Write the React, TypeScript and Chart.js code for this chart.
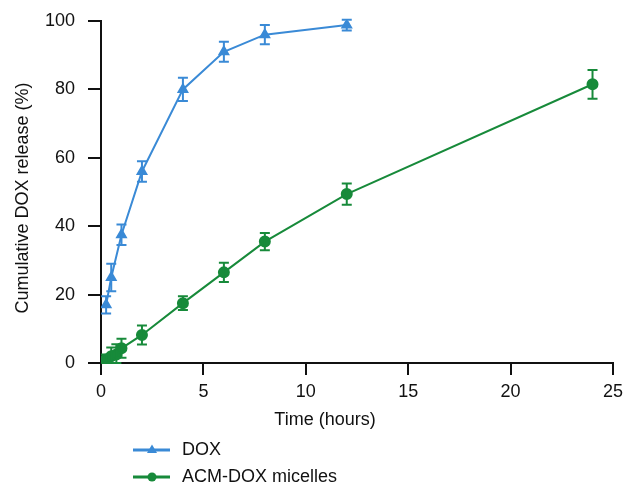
import React, { useEffect, useRef } from "react";
import { Chart, registerables } from "chart.js";

Chart.register(...registerables);

const doxTime = [0.25, 0.5, 1, 2, 4, 6, 8, 12];
const doxRelease = [17, 25, 37.5, 56, 80, 91, 96, 98.8];
const doxError = [2.5, 4, 3, 3, 3.4, 2.9, 2.8, 1.6];

const acmTime = [0.25, 0.5, 0.75, 1, 2, 4, 6, 8, 12, 24];
const acmRelease = [1, 2, 2.5, 4.3, 8.2, 17.5, 26.5, 35.5, 49.4, 81.5];
const acmError = [1.5, 2.5, 3, 2.8, 2.8, 2, 2.8, 2.5, 3.1, 4.2];

const xTicks = [0, 5, 10, 15, 20, 25];
const yTicks = [0, 20, 40, 60, 80, 100];

const seriesLabels = ["DOX", "ACM-DOX micelles"];
const xTitle = "Time (hours)";
const yTitle = "Cumulative DOX release (%)";
const BLUE = "#3a8ad6";
const GREEN = "#178a3a";
const INK = "#111";
const FONT = "'Liberation Sans', Arial, sans-serif";

const errorBarPlugin = {
  id: "errorBars",
  afterDatasetsDraw(chart: any) {
    const ctx = chart.ctx;
    const ys = chart.scales.y;
    const xs = chart.scales.x;
    chart.data.datasets.forEach((ds: any) => {
      const errs = ds.errors as number[];
      ctx.save();
      ctx.strokeStyle = ds.borderColor;
      ctx.lineWidth = 2;
      ds.data.forEach((p: any, j: number) => {
        const px = xs.getPixelForValue(p.x);
        const top = ys.getPixelForValue(p.y + errs[j]);
        const bot = ys.getPixelForValue(Math.max(0, p.y - errs[j]));
        ctx.beginPath();
        ctx.moveTo(px, top);
        ctx.lineTo(px, bot);
        ctx.moveTo(px - 5, top);
        ctx.lineTo(px + 5, top);
        ctx.moveTo(px - 5, bot);
        ctx.lineTo(px + 5, bot);
        ctx.stroke();
      });
      ctx.restore();
    });
  },
};

const titlesAndLegendPlugin = {
  id: "titlesLegend",
  afterDraw(chart: any) {
    const ctx = chart.ctx;
    const area = chart.chartArea;
    ctx.save();
    ctx.fillStyle = INK;
    ctx.font = `18px ${FONT}`;
    // x title
    ctx.textAlign = "center";
    ctx.textBaseline = "alphabetic";
    ctx.fillText(xTitle, area.left + (area.right - area.left) * 0.4375, area.bottom + 62);
    // y title
    ctx.save();
    ctx.translate(28, (area.top + area.bottom) / 2 + 6);
    ctx.rotate(-Math.PI / 2);
    ctx.fillText(yTitle, 0, 0);
    ctx.restore();
    // legend
    const left = area.left + 32;
    chart.data.datasets.forEach((ds: any, i: number) => {
      const y = area.bottom + 87 + i * 27;
      ctx.strokeStyle = ds.borderColor;
      ctx.fillStyle = ds.borderColor;
      ctx.lineWidth = 3;
      ctx.beginPath();
      ctx.moveTo(left, y);
      ctx.lineTo(left + 37, y);
      ctx.stroke();
      const cx = left + 19;
      ctx.beginPath();
      if (ds.pointStyle === "triangle") {
        ctx.moveTo(cx, y - 5.5);
        ctx.lineTo(cx + 5, y + 3);
        ctx.lineTo(cx - 5, y + 3);
        ctx.closePath();
      } else {
        ctx.arc(cx, y, 4.5, 0, Math.PI * 2);
      }
      ctx.fill();
      ctx.fillStyle = INK;
      ctx.textBaseline = "middle";
      ctx.textAlign = "left";
      ctx.fillText(seriesLabels[i], left + 49, y);
    });
    ctx.restore();
  },
};

export default function App() {
  const ref = useRef<HTMLCanvasElement | null>(null);
  useEffect(() => {
    if (!ref.current) return;
    const chart = new Chart(ref.current, {
      type: "scatter",
      data: {
        datasets: [
          {
            label: seriesLabels[0],
            data: doxTime.map((t, i) => ({ x: t, y: doxRelease[i] })),
            errors: doxError,
            showLine: true,
            borderColor: BLUE,
            backgroundColor: BLUE,
            borderWidth: 2,
            pointStyle: "triangle",
            pointRadius: 5,
            pointHoverRadius: 5,
          } as any,
          {
            label: seriesLabels[1],
            data: acmTime.map((t, i) => ({ x: t, y: acmRelease[i] })),
            errors: acmError,
            showLine: true,
            borderColor: GREEN,
            backgroundColor: GREEN,
            borderWidth: 2,
            pointStyle: "circle",
            pointRadius: 5,
            pointHoverRadius: 5,
          } as any,
        ],
      },
      options: {
        animation: false,
        responsive: false,
        maintainAspectRatio: false,
        layout: { padding: { left: 0, right: 11, top: 21, bottom: 0 } },
        plugins: { legend: { display: false }, tooltip: { enabled: false } },
        scales: {
          x: {
            type: "linear",
            min: 0,
            max: 25,
            afterBuildTicks: (axis: any) => {
              axis.ticks = xTicks.map((v) => ({ value: v }));
            },
            afterFit: (axis: any) => {
              axis.height = 121;
              axis.paddingLeft = 0;
              axis.paddingRight = 0;
            },
            border: { color: INK, width: 2 },
            grid: { drawOnChartArea: false, color: INK, lineWidth: 2, tickLength: 12 },
            ticks: { color: INK, font: { family: FONT, size: 18 }, padding: 6, maxRotation: 0 },
          },
          y: {
            min: 0,
            max: 100,
            afterBuildTicks: (axis: any) => {
              axis.ticks = yTicks.map((v) => ({ value: v }));
            },
            afterFit: (axis: any) => {
              axis.width = 101;
              axis.paddingTop = 0;
              axis.paddingBottom = 0;
            },
            border: { color: INK, width: 2 },
            grid: { drawOnChartArea: false, color: INK, lineWidth: 2, tickLength: 13 },
            ticks: { color: INK, font: { family: FONT, size: 18 }, padding: 13 },
          },
        },
      },
      plugins: [errorBarPlugin, titlesAndLegendPlugin],
    });
    return () => chart.destroy();
  }, []);
  return (
    <div style={{ position: "fixed", left: 0, top: 0, width: 624, height: 484, background: "#fff" }}>
      <canvas ref={ref} width={624} height={484} style={{ width: 624, height: 484 }} />
    </div>
  );
}
